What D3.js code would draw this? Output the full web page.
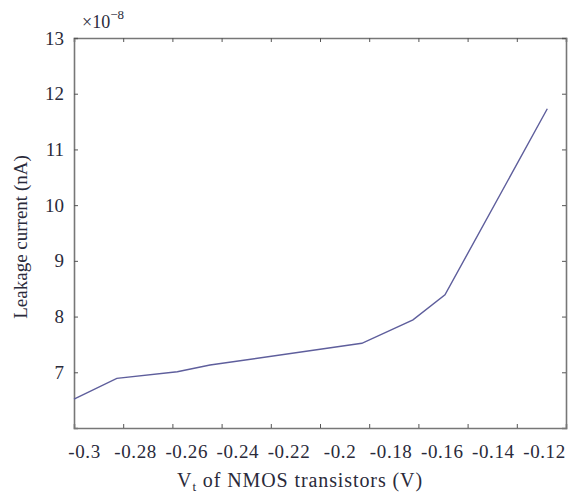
<!DOCTYPE html>
<html>
<head>
<meta charset="utf-8">
<script src="https://cdn.jsdelivr.net/npm/d3@7"></script>
<style>
  body { margin: 0; background: #fff; }
  svg text { font-family: "Liberation Serif", "Times New Roman", serif; fill: #2a2a3a; }
</style>
</head>
<body>
<svg id="chart" width="569" height="495"></svg>
<script>
// Data (leakage current in units of 1e-8)
const vt = [-0.3, -0.2826, -0.258, -0.2447, -0.183, -0.1622, -0.1492, -0.1076];
const leakage = [6.52, 6.89, 7.01, 7.13, 7.52, 7.94, 8.39, 11.73];
const xTicks = [-0.3, -0.28, -0.26, -0.24, -0.22, -0.2, -0.18, -0.16, -0.14, -0.12];
const yTicks = [7, 8, 9, 10, 11, 12, 13];

const margin = {top: 38, right: 3, bottom: 67, left: 74},
    width = 569 - margin.left - margin.right,
    height = 495 - margin.top - margin.bottom;

const serif = "'Liberation Serif', 'Times New Roman', serif";

const svg = d3.select("#chart")
  .append("g")
  .attr("transform", `translate(${margin.left},${margin.top})`);

const x = d3.scaleLinear().domain([-0.3, -0.1]).range([0, width]);
const y = d3.scaleLinear().domain([6, 13]).range([height, 0]);
// tick labels in the original sit slightly to the right of their ticks
const xLab = d3.scaleLinear().domain([-0.3, -0.12]).range([10, 470]);

const fmt = d => String(d);

// bottom axis
const xAxis = svg.append("g")
  .attr("transform", `translate(0,${height})`)
  .call(d3.axisBottom(x).tickValues(xTicks).tickSize(-4).tickPadding(17).tickFormat(fmt));
xAxis.selectAll(".tick text").attr("x", d => xLab(d) - x(d));

// top axis
svg.append("g")
  .call(d3.axisTop(x).tickValues(xTicks).tickSize(-4).tickFormat(""));

// left axis
svg.append("g")
  .call(d3.axisLeft(y).tickValues(yTicks).tickSize(-4).tickPadding(10).tickFormat(d3.format("d")));

// right axis
svg.append("g")
  .attr("transform", `translate(${width},0)`)
  .call(d3.axisRight(y).tickValues(yTicks).tickSize(-4).tickFormat(""));

svg.selectAll(".domain").attr("stroke", "#777").attr("stroke-width", 1.6);
svg.selectAll(".tick line").attr("stroke", "#555").attr("stroke-width", 1);
svg.selectAll("g").attr("font-family", serif);
svg.selectAll(".tick text")
  .style("font-family", serif)
  .style("font-size", "19px")
  .attr("fill", "#2a2a3a");
xAxis.selectAll(".tick text").style("letter-spacing", "0.6px");

// data line
svg.append("path")
  .datum(vt.map((v, i) => [v, leakage[i]]))
  .attr("fill", "none")
  .attr("stroke", "#5e5e9c")
  .attr("stroke-width", 1.4)
  .attr("d", d3.line().x(d => x(d[0])).y(d => y(d[1])));

// exponent label
const expo = svg.append("text")
  .attr("x", 8)
  .attr("y", -10)
  .style("font-size", "18px");
expo.append("tspan").text("\u00d710");
expo.append("tspan").attr("dy", -9).style("font-size", "13px").text("\u22128");

// axis titles
const xt = svg.append("text")
  .attr("x", 226)
  .attr("y", height + 59)
  .attr("text-anchor", "middle")
  .style("font-size", "20px")
  .style("letter-spacing", "0.9px");
xt.append("tspan").text("V");
xt.append("tspan").attr("dy", 4).style("font-size", "13px").text("t");
xt.append("tspan").attr("dy", -4).text(" of NMOS transistors (V)");

svg.append("text")
  .attr("transform", `translate(-47,${199}) rotate(-90)`)
  .attr("text-anchor", "middle")
  .style("font-size", "19px")
  .text("Leakage current (nA)");
</script>
</body>
</html>
